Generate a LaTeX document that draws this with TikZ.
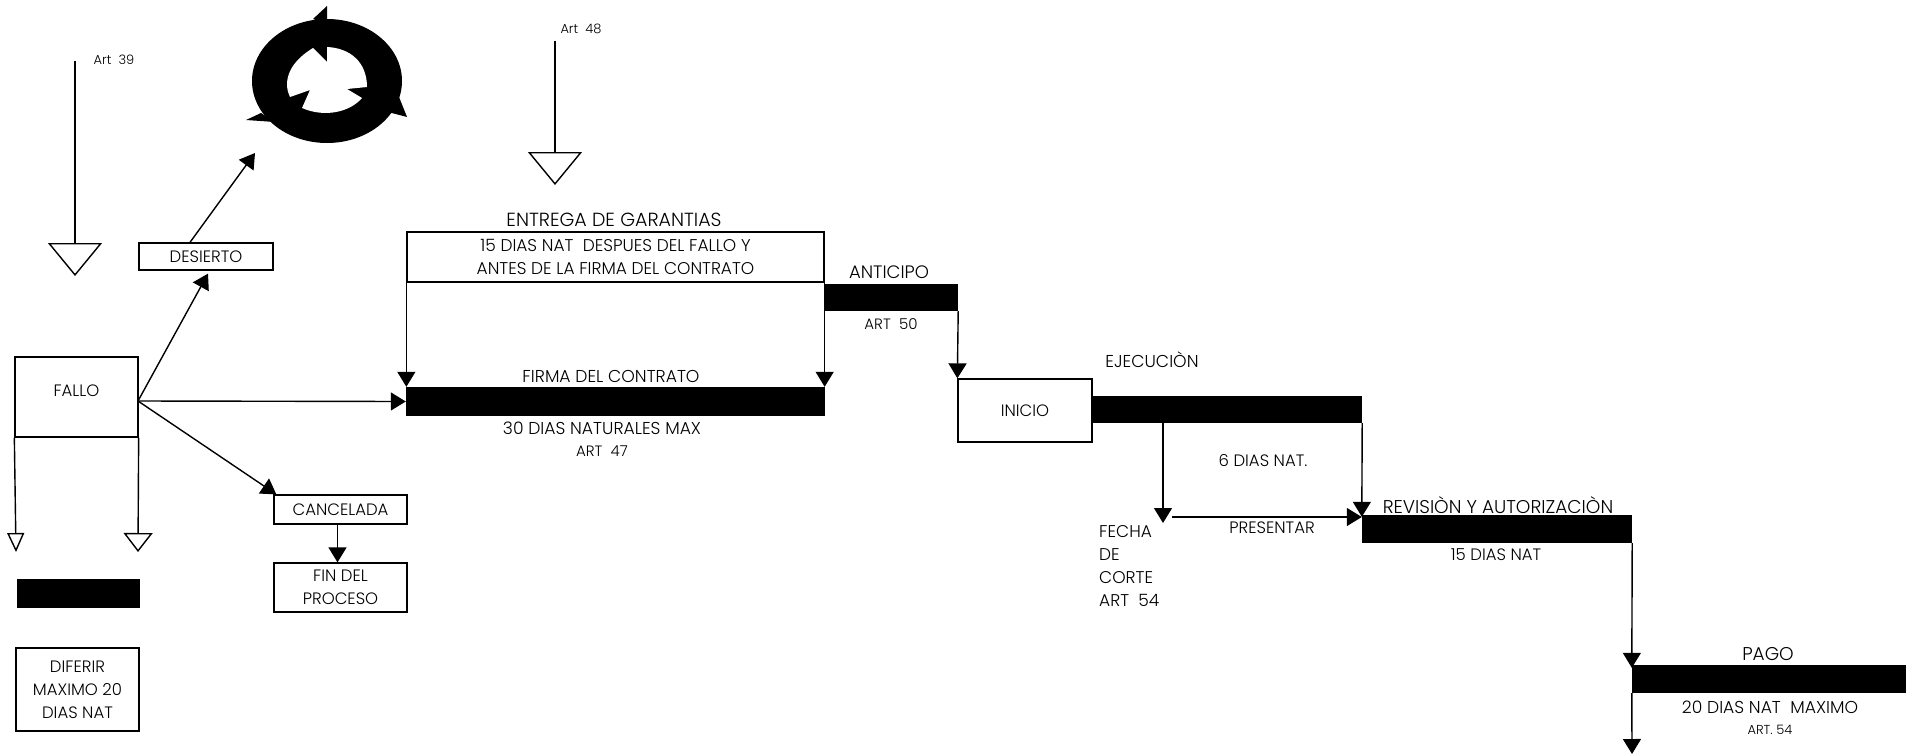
\documentclass[tikz,border=0pt]{standalone}
\usepackage{fontspec}
\setmainfont{Poppins Light}
\usetikzlibrary{arrows.meta,calc}
\newcommand{\fs}[1]{\fontsize{#1}{22.8}\selectfont}
\tikzset{
  box/.style={draw=black,line width=1.3pt,fill=white,inner sep=0pt,align=center,anchor=center,font=\fs{16.5}},
  bar/.style={draw=none,fill=black,inner sep=0pt},
  lbl/.style={inner sep=0pt,align=center,font=\fs{17.2}},
  lblleft/.style={inner sep=0pt,align=left,anchor=west,font=\fs{17}},
  small/.style={inner sep=0pt,align=center,font=\fs{13}},
  conn/.style={line width=1.4pt,-{Triangle[length=15pt,width=18pt]}},
  open1/.style={line width=1.4pt,-{Triangle[open,length=33pt,width=54pt]}},
  open2/.style={line width=1.4pt,-{Triangle[open,length=19pt,width=29pt]}},
  open3/.style={line width=1.4pt,-{Triangle[open,length=19pt,width=17pt]}},
}
\newcommand{\rectnode}[6][box]{\node[#1,minimum width=#4pt-#2pt,minimum height=#5pt-#3pt] at ({(#2+#4)/2},{(#3+#5)/2}) #6}
\begin{document}
\begin{tikzpicture}[x=1pt,y=-1pt]
\useasboundingbox (0,0) rectangle (1913,755);
% recycle symbol
\fill[black] (327,81) ellipse [x radius=75,y radius=62];
\fill[black] (327,6) -- (313,19) -- (327,24) -- cycle;
\fill[black] (407,117) -- (399,97) -- (388,112) -- cycle;
\fill[black] (246,120) -- (261,113) -- (275,122) -- cycle;
\fill[white] (290,97) .. controls (284,85) and (285,65) .. (313,48)
  -- (327,62) -- (327,47)
  .. controls (350,48) and (367,62) .. (367,87)
  -- (347,89) -- (362,98)
  .. controls (350,112) and (325,118) .. (302,108)
  -- (310,90) -- cycle;
% boxes
\rectnode{15}{357}{138}{437}{(fallo) {\raisebox{12pt}{FALLO}}};
\rectnode{139}{243}{273}{270}{(desierto) {DESIERTO}};
\rectnode{274}{495}{407}{524}{(cancelada) {CANCELADA}};
\rectnode{274}{563}{407}{612}{(fin) {FIN DEL\\PROCESO}};
\rectnode{16}{648}{139}{731}{(diferir) {DIFERIR\\MAXIMO 20\\DIAS NAT}};
\rectnode[box,font=\fs{17}]{407}{232}{824}{282}{(garantias) {15 DIAS NAT\ \ DESPUES DEL FALLO Y\hspace{8pt}\\ANTES DE LA FIRMA DEL CONTRATO}};
\rectnode{958}{379}{1092}{442}{(inicio) {INICIO}};
% bars
\rectnode[bar]{17}{579}{140}{608}{(diferbar) {}};
\rectnode[bar]{406}{387}{825}{416}{(firma) {}};
\rectnode[bar]{824}{284}{958}{311}{(anticipo) {}};
\rectnode[bar]{1092}{396}{1362}{423}{(ejecucion) {}};
\rectnode[bar]{1362}{515}{1632}{543}{(revision) {}};
\rectnode[bar]{1632}{665}{1906}{693}{(pago) {}};
% labels
\node[small] (art39) at (114,60) {Art\ \ 39};
\node[small] (art48) at (581,29) {Art\ \ 48};
\node[lbl,font=\fs{19}] (entrega) at (614,220) {ENTREGA DE GARANTIAS};
\node[lbl] (tfirma) at (611,376) {FIRMA DEL CONTRATO};
\node[lbl] (tdias) at (602,428) {30 DIAS NATURALES MAX};
\node[lbl,font=\fs{15}] (tart47) at (602,451) {ART\ \ 47};
\node[lbl,font=\fs{18}] (tanticipo) at (889,272) {ANTICIPO};
\node[lbl,font=\fs{15}] (tart50) at (891,324) {ART\ \ 50};
\node[lbl] (tejec) at (1152,360) {EJECUCIÒN};
\node[lbl,font=\fs{16.5}] (tseis) at (1263,461) {6 DIAS NAT.};
\node[lblleft] (tfecha) at (1099,566) {FECHA\\DE\\CORTE\\ART\ \ 54};
\node[lbl,font=\fs{16.5}] (tpresentar) at (1272,528) {PRESENTAR};
\node[lbl,font=\fs{18.5}] (trevision) at (1498,505) {REVISIÒN Y AUTORIZACIÒN};
\node[lbl,font=\fs{16.5}] (tquince) at (1496,555) {15 DIAS NAT};
\node[lbl,font=\fs{18.5}] (tpago) at (1768,654) {PAGO};
\node[lbl] (tveinte) at (1770,707) {20 DIAS NAT\ \ MAXIMO};
\node[small] (tart54) at (1770,730) {ART. 54};
% free ends
\coordinate (a39top) at (75,61);
\coordinate (a39tip) at (75,276);
\coordinate (a48top) at (555,41);
\coordinate (a48tip) at (555,185);
\coordinate (fo) at (138,401);
\coordinate (ringtip) at (255,153);
\coordinate (ftipl) at (16,552);
\coordinate (ftipr) at (138,552);
\coordinate (endtip) at (1632,754);
\coordinate (fechatip) at (1163,523);
\coordinate (presstart) at (1172,517);
% connectors
\draw[open1] (a39top) -- (a39tip);
\draw[open1] (a48top) -- (a48tip);
\draw[open3] (fallo.south west) -- (ftipl);
\draw[open2] (fallo.south east) -- (ftipr);
\draw[conn] (fo) -- ([shift={(2,3)}]desierto.south);
\draw[conn] ([xshift=-16pt]desierto.north) -- (ringtip);
\draw[conn] (fo) -- (firma.west);
\draw[conn] (fo) -- ([shift={(3,0)}]cancelada.north west);
\draw[conn] ([xshift=-3pt]cancelada.south) -- ([xshift=-3pt]fin.north);
\draw[conn] (garantias.south west) -- (firma.north west -| garantias.south west);
\draw[conn] (garantias.south east) -- (firma.north east -| garantias.south east);
\draw[conn] (anticipo.south east) -- (inicio.north west);
\draw[conn] (ejecucion.south west -| fechatip) -- (fechatip);
\draw[conn] (ejecucion.south east) -- ([yshift=-2pt]revision.north west);
\draw[conn] (presstart) -- (presstart -| revision.west);
\draw[conn] (revision.south east) -- ([yshift=-3pt]pago.north west);
\draw[conn] (pago.south west) -- (endtip);
\end{tikzpicture}
\end{document}
